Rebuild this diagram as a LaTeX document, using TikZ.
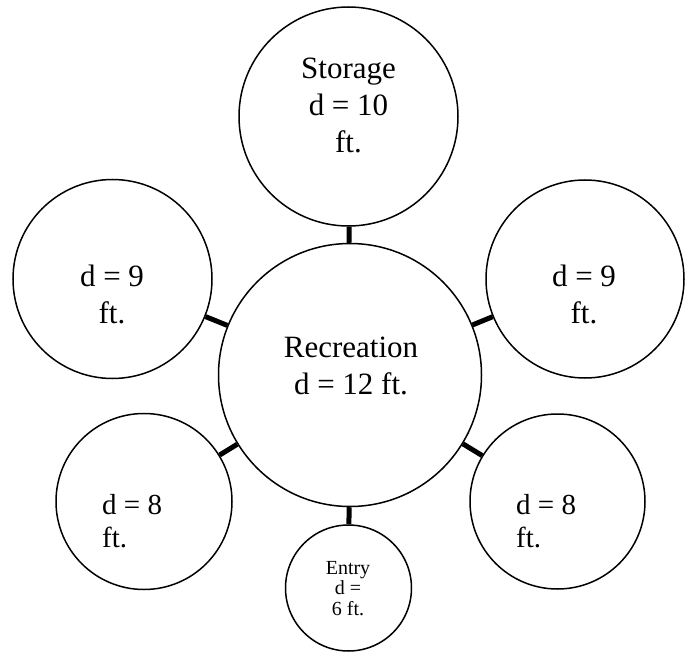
\documentclass[tikz,border=0pt]{standalone}
\usepackage{fontspec}
\setmainfont{Liberation Serif}
\begin{document}
\begin{tikzpicture}[x=1pt,y=-1pt,
  room/.style={circle,draw=black,line width=1.5pt,inner sep=0pt,fill=white},
  link/.style={line width=5pt,draw=black},
  bigtxt/.style={inner sep=0pt,font=\fontsize{31}{37}\selectfont,align=center},
  midtxt/.style={inner sep=0pt,font=\fontsize{29}{33}\selectfont,align=left,anchor=west},
  smalltxt/.style={inner sep=0pt,font=\fontsize{20}{20.5}\selectfont,align=center}]
\useasboundingbox (0,0) rectangle (694,658);
% rooms
\node[room,minimum size=219pt] (storage) at (348.5,116.5) {};
\node[room,minimum size=263pt] (rec) at (350,375) {};
\node[room,minimum size=199pt] (l9) at (112.5,279) {};
\node[room,minimum size=198pt] (r9) at (585,279) {};
\node[room,minimum size=176pt] (l8) at (144,501.5) {};
\node[room,minimum size=175pt] (r8) at (557.5,501.5) {};
\node[room,minimum size=126pt] (entry) at (348.5,588) {};
% connectors
\draw[link] (storage) -- (rec);
\draw[link] (l9) -- (rec);
\draw[link] (r9) -- (rec);
\draw[link] (l8) -- (rec);
\draw[link] (r8) -- (rec);
\draw[link] (entry) -- (rec);
% labels
\node[bigtxt] (storage-t) at (348.5,105.5) {Storage\\d = 10\\ft.};
\node[bigtxt] (rec-t) at (351,365.5) {Recreation\\d = 12 ft.};
\node[bigtxt] (l9-t) at (112,294.5) {d = 9\\ft.};
\node[bigtxt] (r9-t) at (584,294.5) {d = 9\\ft.};
\node[midtxt] (l8-t) at (102,521.5) {d = 8\\ft.};
\node[midtxt] (r8-t) at (516,521.5) {d = 8\\ft.};
\node[smalltxt] (entry-t) at (348,588.5) {Entry\\d =\\6 ft.};
\end{tikzpicture}
\end{document}
